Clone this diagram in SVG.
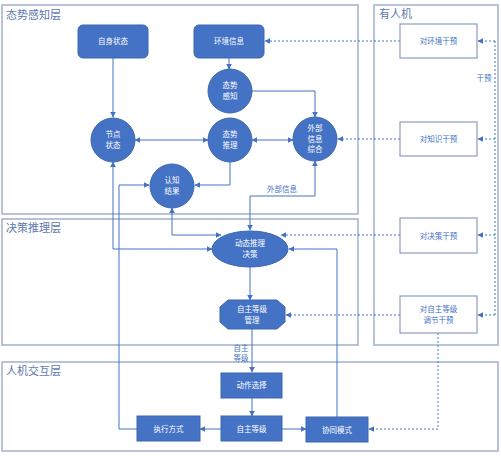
<svg xmlns="http://www.w3.org/2000/svg" width="501" height="456" viewBox="0 0 501 456">
<style>
text{font-family:"Noto Sans CJK SC","Liberation Sans",sans-serif}
.frame{fill:none;stroke:#a3b0cb;stroke-width:1.5}
.ftitle{font-size:11px;fill:#5e78b0}
.node{fill:#4472c4;stroke:#3d66b0;stroke-width:1}
.nt{font-size:7.5px;fill:#fff;text-anchor:middle}
.hbox{fill:#fff;stroke:#8d9cc0;stroke-width:1.2}
.ht{font-size:7.5px;fill:#4472c4;text-anchor:middle}
.ln{fill:none;stroke:#4472c4;stroke-width:1}
.dl{fill:none;stroke:#4472c4;stroke-width:1;stroke-dasharray:2 2}
.lbl{font-size:7.5px;fill:#4472c4;text-anchor:middle}
</style>
<defs>
<marker id="a" viewBox="0 0 10 10" refX="9" refY="5" markerWidth="6" markerHeight="6" orient="auto-start-reverse" markerUnits="userSpaceOnUse">
<path d="M0,0 L10,5 L0,10 z" fill="#4472c4"/>
</marker>
</defs>
<rect width="501" height="456" fill="#fff"/>
<g id="frames">
<rect class="frame" x="2" y="5" width="356" height="209"/>
<text class="ftitle" x="6" y="19">态势感知层</text>
<rect class="frame" x="374" y="5" width="124" height="340"/>
<text class="ftitle" x="379" y="18">有人机</text>
<rect class="frame" x="2" y="219" width="356" height="126"/>
<text class="ftitle" x="6" y="232">决策推理层</text>
<rect class="frame" x="2" y="362" width="496" height="89"/>
<text class="ftitle" x="6" y="375">人机交互层</text>
</g>
<g id="connectors">
<path class="ln" d="M113,58 V117" marker-end="url(#a)"/>
<path class="ln" d="M229,58 V69" marker-end="url(#a)"/>
<path class="ln" d="M252,91 H315 V117" marker-end="url(#a)"/>
<path class="ln" d="M135,140 H208" marker-start="url(#a)" marker-end="url(#a)"/>
<path class="ln" d="M252,140 H293" marker-start="url(#a)" marker-end="url(#a)"/>
<path class="ln" d="M230,162 V185 H195" marker-end="url(#a)"/>
<path class="ln" d="M172,208 V235 H221" marker-start="url(#a)" marker-end="url(#a)"/>
<path class="ln" d="M113,162 V249 H212" marker-start="url(#a)" marker-end="url(#a)"/>
<path class="ln" d="M250,230 V196 H315 V161" marker-start="url(#a)" marker-end="url(#a)"/>
<text class="lbl" x="282" y="192">外部信息</text>
<path class="ln" d="M137,429 H119 V185 H149" marker-end="url(#a)"/>
<path class="ln" d="M250,267 V300" marker-end="url(#a)"/>
<path class="ln" d="M252,329 V372" marker-end="url(#a)"/>
<text class="lbl" x="241" y="351">自主</text>
<text class="lbl" x="241" y="361">等级</text>
<path class="ln" d="M252,398 V416" marker-end="url(#a)"/>
<path class="ln" d="M221,429 H200" marker-end="url(#a)"/>
<path class="ln" d="M282,429 H306" marker-end="url(#a)"/>
<path class="ln" d="M337,417 V249 H289" marker-end="url(#a)"/>
<path class="dl" d="M400,41 H265" marker-end="url(#a)"/>
<path class="dl" d="M400,139 H338" marker-end="url(#a)"/>
<path class="dl" d="M400,235 H281" marker-end="url(#a)"/>
<path class="dl" d="M400,315 H286" marker-end="url(#a)"/>
<path class="dl" d="M438,333 V429 H369" marker-end="url(#a)"/>
<path class="dl" d="M495,41 V315"/>
<path class="dl" d="M495,41 H478" marker-end="url(#a)"/>
<path class="dl" d="M495,139 H478" marker-end="url(#a)"/>
<path class="dl" d="M495,235 H478" marker-end="url(#a)"/>
<path class="dl" d="M495,315 H478" marker-end="url(#a)"/>
<rect x="476" y="72" width="16" height="12" fill="#fff"/>
<text class="lbl" x="484" y="81">干预</text>
</g>
<g id="n-zishen"><rect class="node" x="78" y="25" width="70" height="33" rx="5"/><text class="nt" x="113" y="44">自身状态</text></g>
<g id="n-huanjing"><rect class="node" x="194" y="25" width="70" height="33" rx="5"/><text class="nt" x="229" y="44">环境信息</text></g>
<g id="n-ganzhi"><circle class="node" cx="230" cy="91" r="22"/><text class="nt" x="230" y="88">态势</text><text class="nt" x="230" y="99">感知</text></g>
<g id="n-jiedian"><circle class="node" cx="113" cy="140" r="22"/><text class="nt" x="113" y="137">节点</text><text class="nt" x="113" y="148">状态</text></g>
<g id="n-tuili"><circle class="node" cx="230" cy="140" r="22"/><text class="nt" x="230" y="137">态势</text><text class="nt" x="230" y="148">推理</text></g>
<g id="n-waibu"><circle class="node" cx="315" cy="139" r="22"/><text class="nt" x="315" y="131">外部</text><text class="nt" x="315" y="142">信息</text><text class="nt" x="315" y="152">综合</text></g>
<g id="n-renzhi"><circle class="node" cx="172" cy="186" r="22"/><text class="nt" x="172" y="183">认知</text><text class="nt" x="172" y="194">结果</text></g>
<g id="n-juece"><ellipse class="node" cx="250" cy="249" rx="38" ry="18"/><text class="nt" x="250" y="246">动态推理</text><text class="nt" x="250" y="257">决策</text></g>
<g id="n-guanli"><polygon class="node" points="228,300 277,300 285,307 285,322 277,329 228,329 220,322 220,307"/><text class="nt" x="252" y="312">自主等级</text><text class="nt" x="252" y="323">管理</text></g>
<g id="n-dongzuo"><rect class="node" x="221" y="373" width="61" height="25"/><text class="nt" x="251.5" y="388">动作选择</text></g>
<g id="n-dengji"><rect class="node" x="221" y="416" width="61" height="25"/><text class="nt" x="251.5" y="432">自主等级</text></g>
<g id="n-zhixing"><rect class="node" x="137" y="416" width="63" height="25"/><text class="nt" x="168.5" y="432">执行方式</text></g>
<g id="n-xietong"><rect class="node" x="306" y="417" width="62" height="25"/><text class="nt" x="337" y="433">协同模式</text></g>
<g id="h-huanjing"><rect class="hbox" x="400" y="24" width="77" height="34"/><text class="ht" x="438.5" y="44">对环境干预</text></g>
<g id="h-zhishi"><rect class="hbox" x="400" y="122" width="77" height="34"/><text class="ht" x="438.5" y="142">对知识干预</text></g>
<g id="h-juece"><rect class="hbox" x="400" y="218" width="77" height="35"/><text class="ht" x="438.5" y="239">对决策干预</text></g>
<g id="h-zizhu"><rect class="hbox" x="400" y="296" width="77" height="37"/><text class="ht" x="438.5" y="312">对自主等级</text><text class="ht" x="438.5" y="323">调节干预</text></g>
</svg>
